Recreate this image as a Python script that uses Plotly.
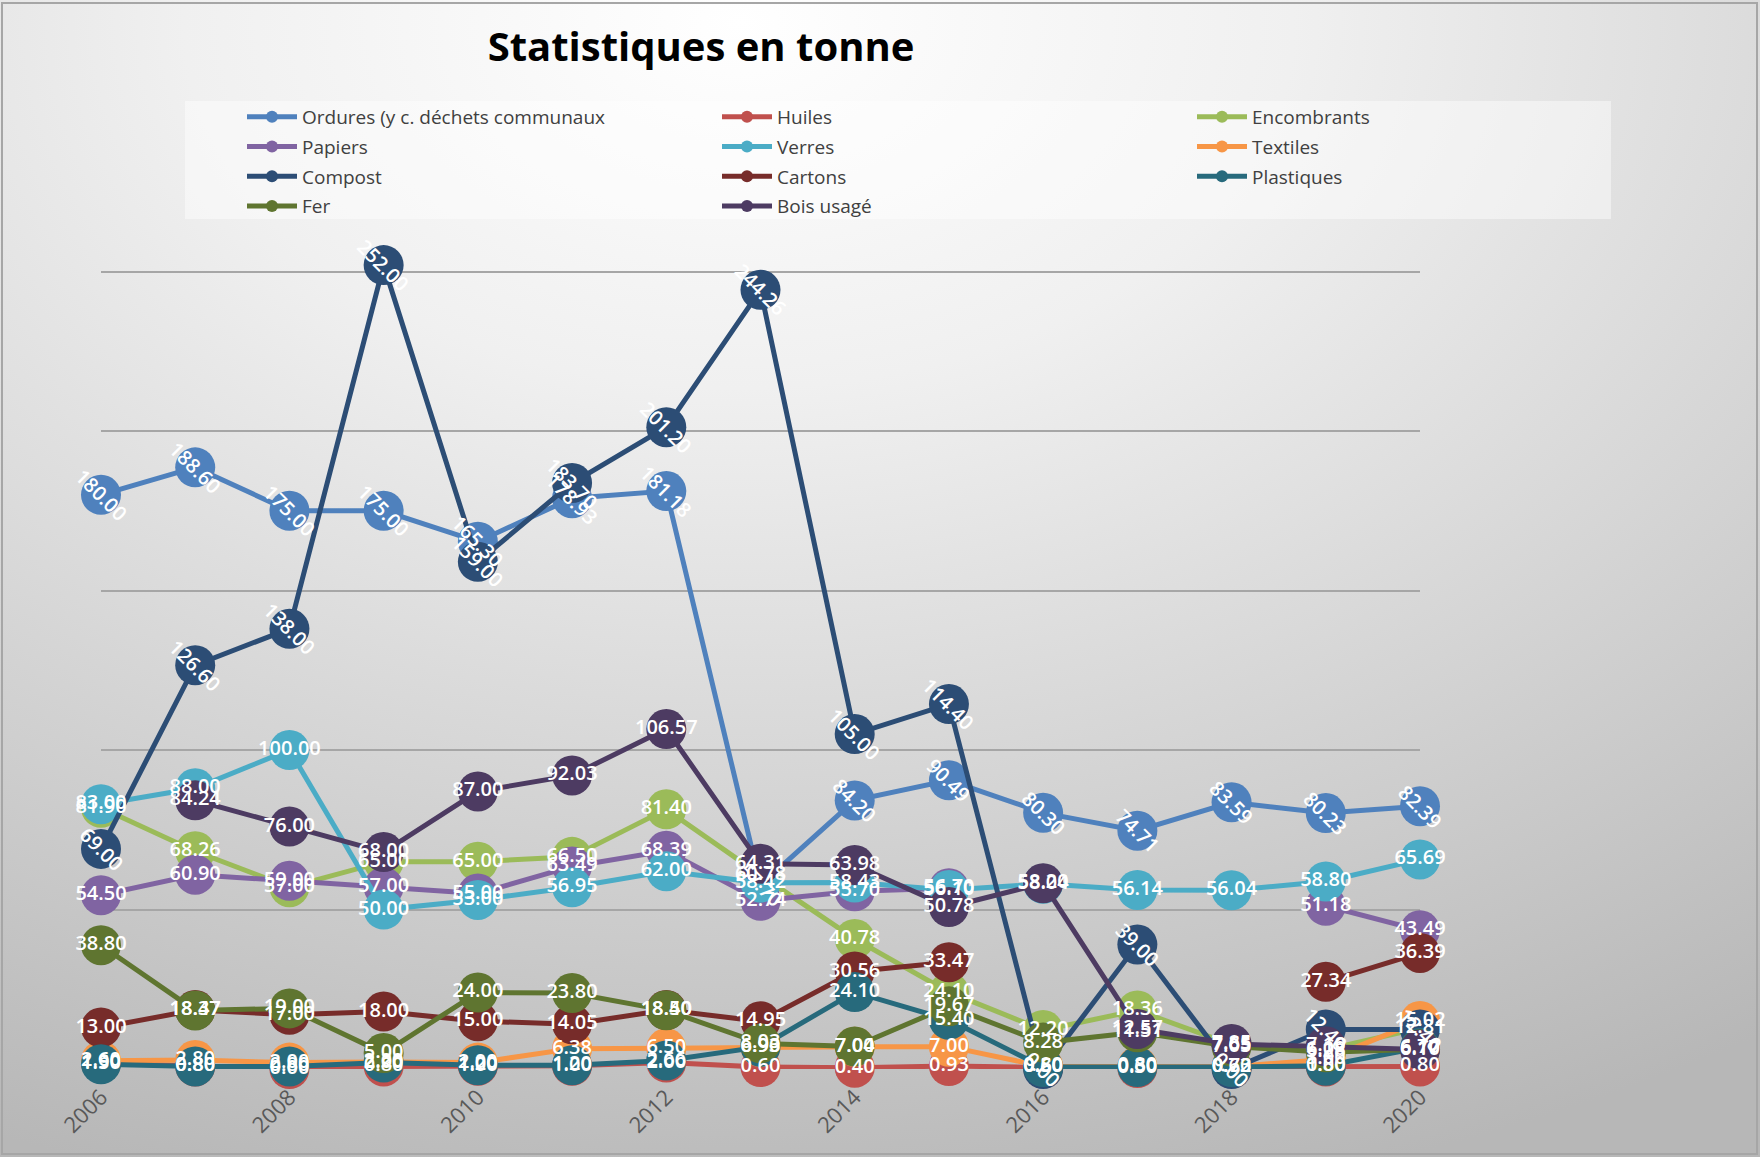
import base64
import plotly.graph_objects as go

# ---------------- data ----------------
years = list(range(2006, 2021))
tick_years = [2006, 2008, 2010, 2012, 2014, 2016, 2018, 2020]

ordures = [180.00, 188.60, 175.00, 175.00, 165.30, 178.93, 181.18, 57.70, 84.20, 90.49, 80.30, 74.71, 83.59, 80.23, 82.39]
huiles = [1.90, 0.80, 0.00, 0.80, 1.00, 1.00, 2.00, 0.60, 0.40, 0.93, 0.50, 0.30, 0.72, 0.80, 0.80]
encombrants = [81.90, 68.26, 57.00, 65.00, 65.00, 66.50, 81.40, 60.78, 40.78, 24.10, 12.20, 18.36, 7.65, 6.08, 12.81]
papiers = [54.50, 60.90, 59.00, 57.00, 55.00, 63.49, 68.39, 52.74, 55.70, 56.70, None, None, None, 51.18, 43.49]
verres = [83.00, 88.00, 100.00, 50.00, 53.00, 56.95, 62.00, 58.42, 58.43, 56.10, 58.04, 56.14, 56.04, 58.80, 65.69]
textiles = [2.60, 2.80, 2.00, 2.20, 2.00, 6.38, 6.50, 6.90, 7.00, 7.00, 0.80, 0.80, 0.73, 3.00, 15.02]
compost = [69.00, 126.60, 138.00, 252.00, 159.00, 183.70, 201.20, 244.26, 105.00, 114.40, 0.00, 39.00, 0.00, 12.40, 12.40]
cartons = [13.00, 18.47, 17.00, 18.00, 15.00, 14.05, 18.50, 14.95, 30.56, 33.47, None, None, None, 27.34, 36.39]
plastiques = [1.50, 0.80, 0.80, 2.00, 1.20, 1.20, 2.66, 6.93, 24.10, 15.40, 0.60, 0.60, 0.60, 1.00, 6.70]
fer = [38.80, 18.37, 19.00, 5.00, 24.00, 23.80, 18.40, 8.03, 7.04, 19.67, 8.28, 11.51, 7.05, 5.28, 6.17]
bois = [None, 84.24, 76.00, 68.00, 87.00, 92.03, 106.57, 64.31, 63.98, 50.78, 58.20, 12.57, 7.85, 7.10, 6.10]

names = ["Ordures (y c. déchets communaux", "Huiles", "Encombrants", "Papiers", "Verres",
         "Textiles", "Compost", "Cartons", "Plastiques", "Fer", "Bois usagé"]
values = [ordures, huiles, encombrants, papiers, verres, textiles, compost, cartons, plastiques, fer, bois]
colors = ["#4F81BD", "#C0504D", "#9BBB59", "#8064A2", "#4BACC6", "#F79646",
          "#2C4D75", "#772C2A", "#276A7C", "#5F7530", "#4D3B62"]
rotated = ["Ordures (y c. déchets communaux", "Compost"]

# ---------------- geometry helpers ----------------
W, H = 1760, 1157
L, R, T, B = 101, 340, 112, 88
PW, PH = W - L - R, H - T - B


def px_x(p):
    return (p - L) / PW


def px_y(p):
    return (H - B - p) / PH


fig = go.Figure()

legends = ["legend", "legend2", "legend3"]
for i, (name, vals, col) in enumerate(zip(names, values, colors)):
    fig.add_trace(go.Scatter(
        x=years, y=vals, name=name, mode="lines+markers",
        line=dict(color=col, width=5),
        marker=dict(size=40, color=col),
        cliponaxis=False, legend=legends[i % 3], legendgroup=name,
        hoverinfo="skip",
    ))

label_font = dict(family="Open Sans", size=20, color="white", weight=600)
for name, vals in zip(names, values):
    if name in rotated:
        continue
    fig.add_trace(go.Scatter(
        x=years, y=vals, mode="text",
        text=["" if v is None else f"{v:.2f}" for v in vals],
        textposition="middle center", textfont=label_font,
        showlegend=False, cliponaxis=False, hoverinfo="skip",
    ))

annotations = []
for name, vals in zip(names, values):
    if name not in rotated:
        continue
    for yr, v in zip(years, vals):
        if v is None:
            continue
        annotations.append(dict(x=yr, y=v, xref="x", yref="y", text=f"{v:.2f}",
                                showarrow=False, textangle=45, font=label_font,
                                xanchor="center", yanchor="middle"))

# gradient background as an svg image
svg = (f'<svg xmlns="http://www.w3.org/2000/svg" width="{W}" height="{H}">'
       '<defs><radialGradient id="g" cx="0.42" cy="0.02" r="1.05" fx="0.42" fy="0.02">'
       '<stop offset="0" stop-color="#ffffff"/><stop offset="0.3" stop-color="#f0f0f0"/>'
       '<stop offset="1" stop-color="#b7b7b7"/></radialGradient></defs>'
       f'<rect width="{W}" height="{H}" fill="url(#g)"/></svg>')
bg_src = "data:image/svg+xml;base64," + base64.b64encode(svg.encode()).decode()

shapes = [
    dict(type="rect", xref="paper", yref="paper", x0=px_x(185), x1=px_x(1611),
         y0=px_y(219), y1=px_y(101), fillcolor="rgba(255,255,255,0.45)",
         line=dict(width=0), layer="below"),
    dict(type="rect", xref="paper", yref="paper", x0=px_x(2), x1=px_x(1757),
         y0=px_y(1154), y1=px_y(3), line=dict(color="#A6A6A6", width=2), layer="above"),
]

leg_common = dict(font=dict(family="Open Sans", size=19, color="#404040"),
                  bgcolor="rgba(0,0,0,0)", orientation="v", tracegroupgap=2,
                  itemsizing="constant", itemwidth=50,
                  xanchor="left", yanchor="top", y=px_y(98))

fig.update_layout(
    width=W, height=H,
    margin=dict(l=L, r=R, t=T, b=B, pad=0),
    paper_bgcolor="#dcdcdc", plot_bgcolor="rgba(0,0,0,0)",
    title=dict(text="<b>Statistiques en tonne</b>", x=701 / W, xanchor="center",
               y=1 - 47 / H, yanchor="middle",
               font=dict(family="Open Sans", size=40, color="black")),
    xaxis=dict(range=[2006, 2020], tickvals=tick_years, ticktext=[str(y) for y in tick_years],
               tickangle=-45, tickfont=dict(family="Open Sans", size=22, color="#595959"),
               ticklabelstandoff=10,
               showgrid=False, zeroline=False, showline=False, ticks=""),
    yaxis=dict(range=[0, 300], tick0=0, dtick=50, showticklabels=False,
               gridcolor="#A6A6A6", gridwidth=2, zeroline=False, showline=False),
    legend=dict(x=px_x(242), **leg_common),
    legend2=dict(x=px_x(717), **leg_common),
    legend3=dict(x=px_x(1192), **leg_common),
    images=[dict(source=bg_src, xref="paper", yref="paper", x=px_x(0), y=px_y(0),
                 sizex=W / PW, sizey=H / PH, xanchor="left", yanchor="top",
                 sizing="stretch", layer="below")],
    shapes=shapes,
    annotations=annotations,
    showlegend=True,
)

fig.write_html("out.html", config={"displayModeBar": False},
               post_script="document.body.style.margin='0';")
